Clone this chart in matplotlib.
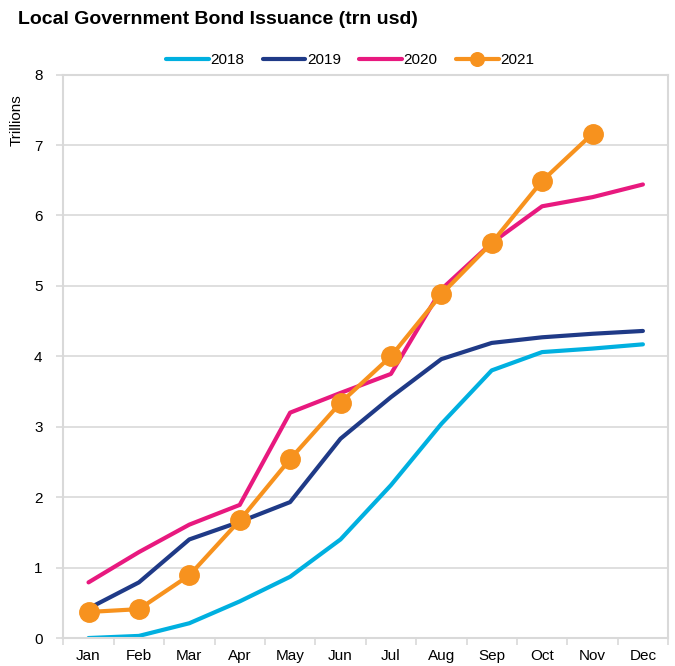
import numpy as np
import matplotlib
matplotlib.use("Agg")
import matplotlib.pyplot as plt

plt.rcParams["font.family"] = ["Liberation Sans", "DejaVu Sans"]

# ----- datos (billones de USD, acumulado) -----
meses = ["Jan", "Feb", "Mar", "Apr", "May", "Jun", "Jul", "Aug", "Sep", "Oct", "Nov", "Dec"]
v2018 = [0.00, 0.03, 0.21, 0.52, 0.87, 1.40, 2.17, 3.04, 3.80, 4.06, 4.11, 4.17]
v2019 = [0.42, 0.79, 1.40, 1.65, 1.93, 2.83, 3.42, 3.96, 4.19, 4.27, 4.32, 4.36]
v2020 = [0.79, 1.22, 1.61, 1.89, 3.20, 3.48, 3.75, 4.95, 5.61, 6.13, 6.26, 6.44]
v2021 = [0.37, 0.41, 0.89, 1.67, 2.54, 3.34, 4.00, 4.88, 5.61, 6.49, 7.16]

gris = "#D9D9D9"

fig = plt.figure(figsize=(6.75, 6.66), dpi=100)
ax = fig.add_axes([0.0938, 0.042, 0.896, 0.846])

x = np.arange(len(meses))
ax.plot(x, v2018, color="#00B0E0", lw=3, label="2018", solid_capstyle="round")
ax.plot(x, v2019, color="#1F3A87", lw=3, label="2019", solid_capstyle="round")
ax.plot(x, v2020, color="#E8197F", lw=3, label="2020", solid_capstyle="round")
ax.plot(x[:len(v2021)], v2021, color="#F7921E", lw=3, marker="o", ms=14,
        label="2021", solid_capstyle="round")

ax.set_xlim(-0.5, 11.5)
ax.set_ylim(0, 8)
ax.set_yticks(range(0, 9))
ax.set_xticks(x)
ax.set_xticklabels(meses)
ax.set_xticks(np.arange(-0.5, 12, 1), minor=True)
ax.tick_params(axis="x", which="major", length=0, pad=8, labelsize=11)
ax.tick_params(axis="x", which="minor", length=5, color=gris, width=1.2)
ax.tick_params(axis="y", length=5, color=gris, width=1.2, labelsize=11, pad=10)
ax.grid(axis="y", color=gris, lw=1.2)
ax.set_axisbelow(True)
for s in ax.spines.values():
    s.set_color(gris)
    s.set_linewidth(1.5)

fig.text(18 / 675, 1 - 20 / 666, "Local Government Bond Issuance (trn usd)",
         fontsize=14, fontweight="bold", va="center", ha="left")
fig.text(17 / 675, 1 - 120 / 666, "Trillions", rotation=90, fontsize=11,
         va="center", ha="center")

ax.legend(loc="center", bbox_to_anchor=(350 / 675, 1 - 60 / 666),
          bbox_transform=fig.transFigure, ncol=4, frameon=False, fontsize=11,
          handlelength=2.8, handletextpad=0.1, columnspacing=1.2, markerscale=0.7)

plt.savefig("out.png", dpi=100)
